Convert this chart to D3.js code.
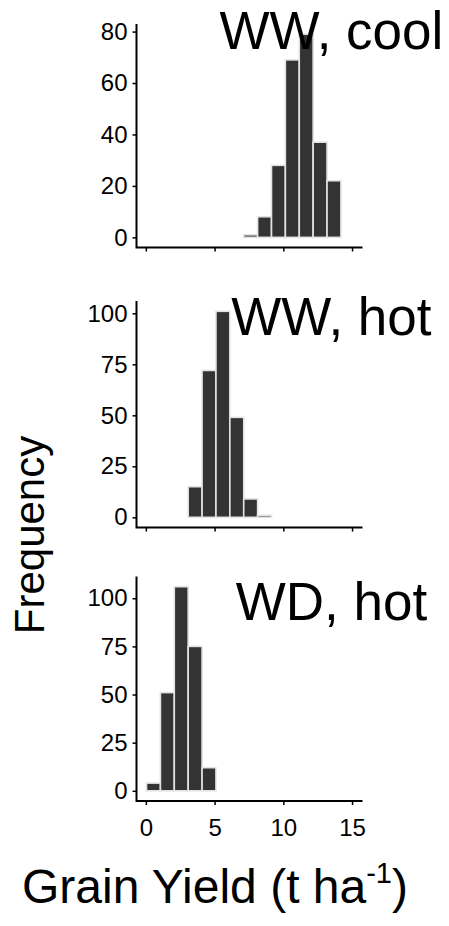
<!DOCTYPE html>
<html>
<head>
<meta charset="utf-8">
<script src="https://cdn.jsdelivr.net/npm/d3@7"></script>
<style>
  body { margin: 0; background: #fff; }
  svg text { font-family: "Liberation Sans", Arial, sans-serif; fill: #000; }
</style>
</head>
<body>
<div id="chart"></div>
<script>
// histogram bin lower edges (t/ha), bins ~1.01 wide
var binStarts = [0.05, 1.06, 2.07, 3.08, 4.09, 5.10, 6.11, 7.12, 8.13, 9.14, 10.15, 11.16, 12.17, 13.18, 14.19];
var binWidth = 1.01;

// counts per bin for each panel
var wwCool = [null, null, null, null, null, null, null, 1, 8, 28, 69, 79, 37, 22, 0];
var wwHot  = [null, null, null, 15, 72, 101, 49, 9, 1, null, null, null, null, null, null];
var wdHot  = [4, 51, 106, 75, 12, null, null, null, null, null, null, null, null, null, null];

var panelNames = ["WW, cool", "WW, hot", "WD, hot"];
var panelCounts = [wwCool, wwHot, wdHot];
var yTicks = [[0, 20, 40, 60, 80], [0, 25, 50, 75, 100], [0, 25, 50, 75, 100]];
var xTicks = [0, 5, 10, 15];

var W = 449, H = 926;
var svg = d3.select("#chart").append("svg")
    .attr("width", W)
    .attr("height", H);

var x = d3.scaleLinear()
  .domain([-0.68, 15.76])
  .range([136.5, 362.5]);

// panel boxes (top/bottom pixel of each panel)
var panels = [
  {top: 24, bottom: 247.5, labelY: 49},
  {top: 301, bottom: 527.6, labelY: 335},
  {top: 576.5, bottom: 801, labelY: 620}
];

panels.forEach(function(p, i) {
  var counts = panelCounts[i];
  var maxC = d3.max(counts);
  var y = d3.scaleLinear()
    .domain([-0.05 * maxC, 1.05 * maxC])
    .range([p.bottom, p.top]);

  var g = svg.append("g");

  var bins = binStarts.map(function(s, k) { return {x0: s, x1: s + binWidth, n: counts[k]}; })
    .filter(function(d) { return d.n !== null; });

  g.selectAll("rect.bar")
    .data(bins)
    .enter()
    .append("rect")
      .attr("class", "bar")
      .attr("x", function(d) { return x(d.x0); })
      .attr("width", function(d) { return x(d.x1) - x(d.x0); })
      .attr("y", function(d) { return y(d.n); })
      .attr("height", function(d) { return y(0) - y(d.n); })
      .attr("fill", "#333333")
      .attr("stroke", "#e3e3e3")
      .attr("stroke-width", 1.6);

  // y axis
  var ya = g.append("g")
    .attr("transform", "translate(" + x.range()[0] + ",0)")
    .call(d3.axisLeft(y).tickValues(yTicks[i]).tickSize(4).tickPadding(5));
  ya.select(".domain").remove();
  ya.selectAll(".tick line").attr("stroke", "#000").attr("stroke-width", 1.5);
  ya.selectAll(".tick text")
    .style("font-size", "24px")
    .style("font-family", "'Liberation Sans', Arial, sans-serif")
    .attr("fill", "#000");

  // x axis
  var xa = g.append("g")
    .attr("transform", "translate(0," + p.bottom + ")")
    .call(d3.axisBottom(x).tickValues(xTicks).tickSize(4).tickPadding(14));
  xa.select(".domain").remove();
  xa.selectAll(".tick line").attr("stroke", "#000").attr("stroke-width", 1.5);
  xa.selectAll(".tick text")
    .style("font-size", "24px")
    .style("font-family", "'Liberation Sans', Arial, sans-serif")
    .attr("fill", "#000");
  if (i < 2) xa.selectAll(".tick text").remove();

  // axis lines (theme_classic look)
  g.append("path")
    .attr("d", "M" + x.range()[0] + "," + p.top + "V" + p.bottom + "H" + x.range()[1])
    .attr("fill", "none")
    .attr("stroke", "#000")
    .attr("stroke-width", 2);

  // panel label
  g.append("text")
    .attr("x", x(13.5))
    .attr("y", p.labelY)
    .attr("text-anchor", "middle")
    .style("font-size", "53px")
    .text(panelNames[i]);
});

// y title
svg.append("text")
  .attr("transform", "translate(44,535)rotate(-90)")
  .attr("text-anchor", "middle")
  .style("font-size", "42px")
  .text("Frequency");

// x title
var xt = svg.append("text")
  .attr("x", 215)
  .attr("y", 903)
  .attr("text-anchor", "middle")
  .style("font-size", "48px");
xt.append("tspan").text("Grain Yield (t ha");
xt.append("tspan").attr("dy", -20).style("font-size", "29px").text("-1");
xt.append("tspan").attr("dy", 20).text(")");
</script>
</body>
</html>
